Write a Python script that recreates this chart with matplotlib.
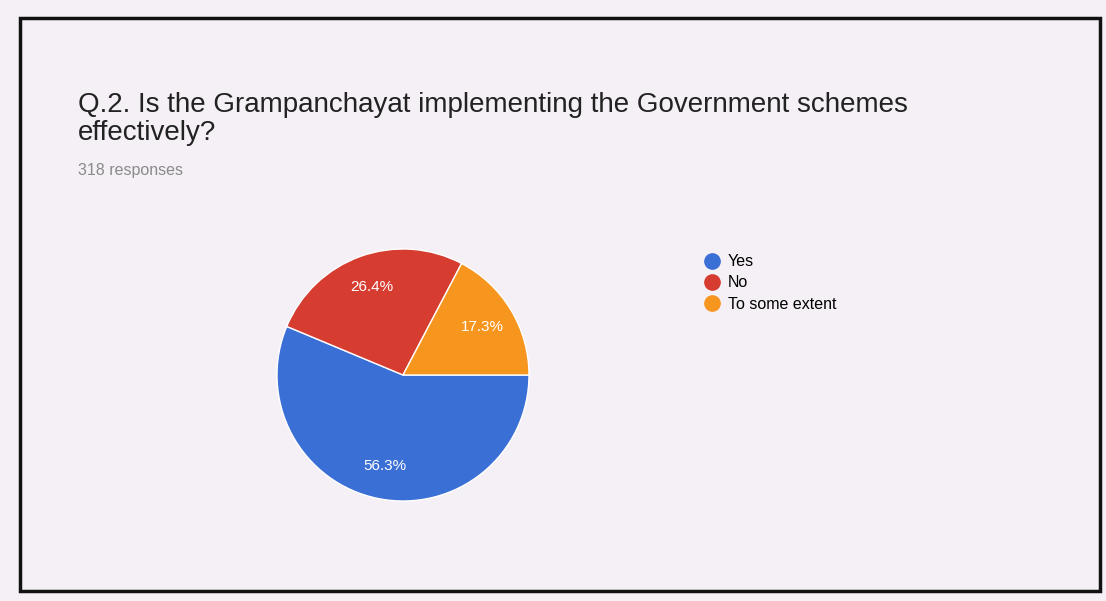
import matplotlib.pyplot as plt
from matplotlib.patches import Rectangle
from matplotlib.lines import Line2D

labels = ['Yes', 'No', 'To some extent']
values = [56.3, 26.4, 17.3]
colors = ['#3a6fd6', '#d63c30', '#f7961f']

title = 'Q.2. Is the Grampanchayat implementing the Government schemes\neffectively?'
subtitle = '318 responses'

fig = plt.figure(figsize=(11.06, 6.01), dpi=100, facecolor='#f5f0f6')

# black frame of the scanned page
fig.patches.append(Rectangle((20/1106, 10/601), 1080/1106, 573/601, transform=fig.transFigure,
                             fill=False, edgecolor='#111111', linewidth=2.5))

fig.text(78/1106, 1 - 119/601, title, fontsize=20, color='#222222', va='center',
         linespacing=1.12, family='Liberation Sans')
fig.text(78/1106, 1 - 170/601, subtitle, fontsize=11.5, color='#8a8a8a', va='center',
         family='Liberation Sans')

ax = fig.add_axes([277/1106, 100/601, 252/1106, 252/601])
wedges, texts, autotexts = ax.pie(values, colors=colors, startangle=0, counterclock=False,
                                  autopct='%.1f%%', pctdistance=0.74,
                                  wedgeprops=dict(edgecolor='white', linewidth=1),
                                  textprops=dict(color='white', fontsize=11, family='Liberation Sans'))
ax.set_xlim(-1, 1)
ax.set_ylim(-1, 1)
ax.set_aspect('equal')

handles = [Line2D([0], [0], marker='o', linestyle='', markersize=11,
                  markerfacecolor=c, markeredgecolor=c) for c in colors]
fig.legend(handles, labels, loc='upper left', bbox_to_anchor=(686/1106, 1 - 240/601),
           frameon=False, handletextpad=0.2, labelspacing=0.38, handlelength=1.5,
           prop=dict(family='Liberation Sans', size=11.5))

plt.savefig('out.png', dpi=100, facecolor=fig.get_facecolor())
